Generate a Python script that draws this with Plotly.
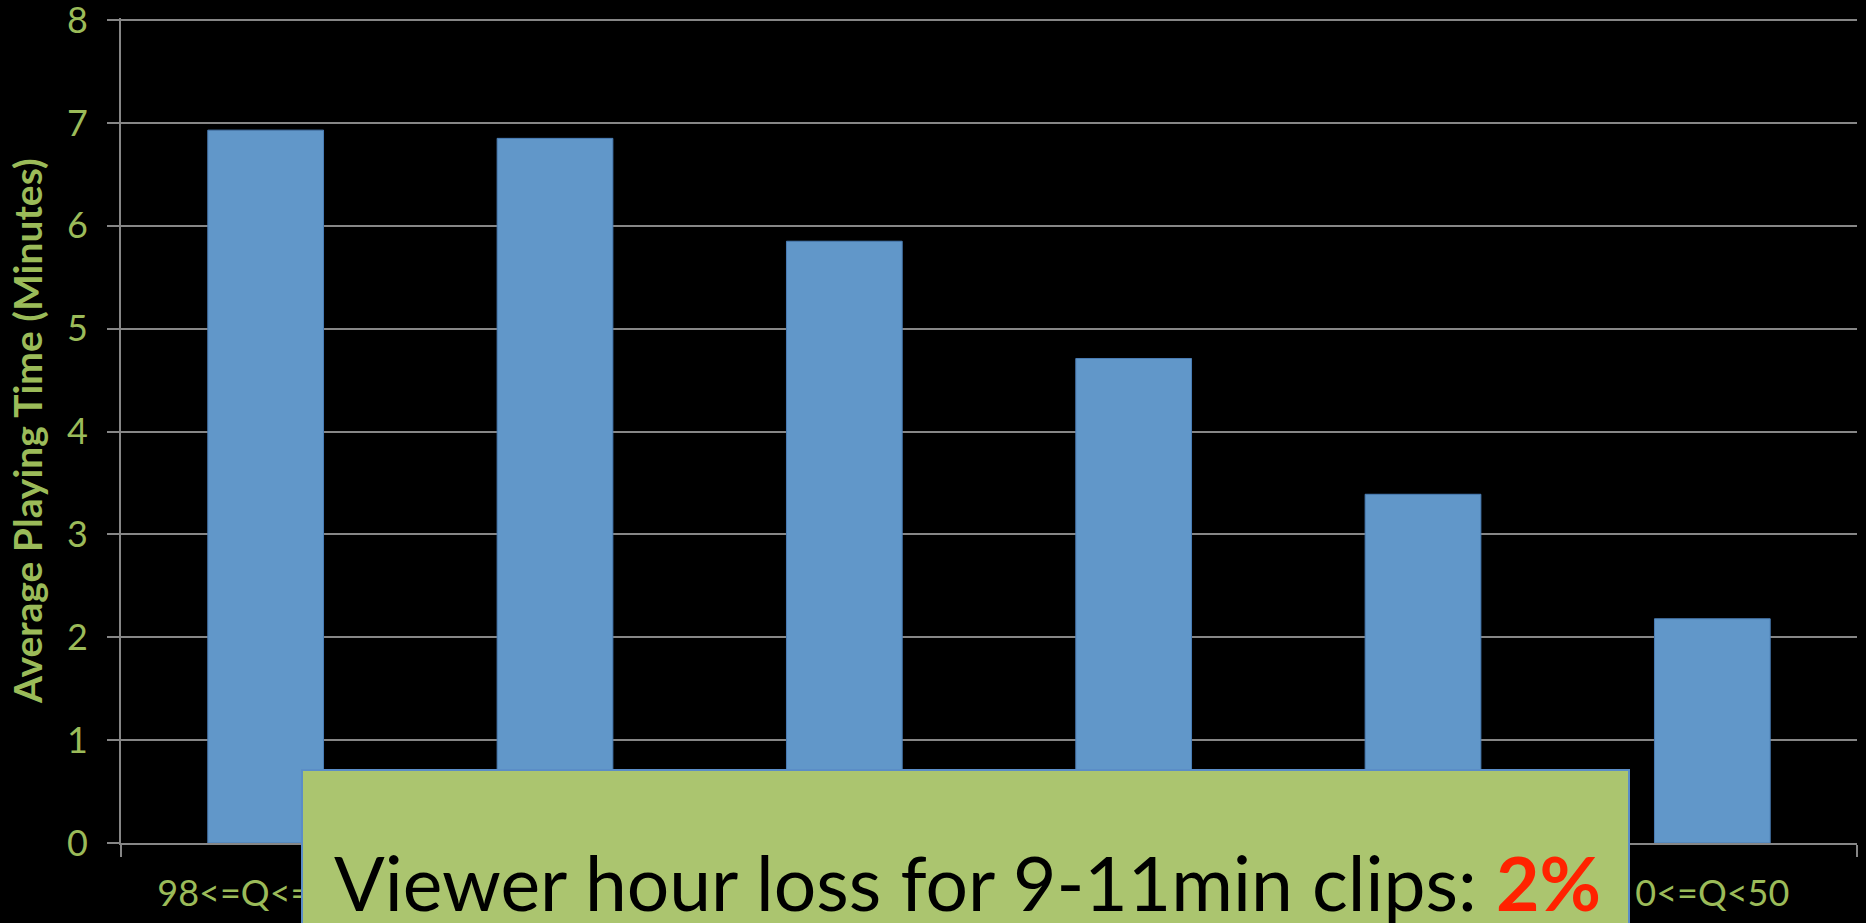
import plotly.graph_objects as go

# Quality buckets and average playing time per bucket
categories = ["98<=Q<=100", "95<=Q<98", "90<=Q<95", "80<=Q<90", "50<=Q<80", "0<=Q<50"]
avg_minutes = [6.93, 6.85, 5.85, 4.71, 3.39, 2.18]
y_ticks = [0, 1, 2, 3, 4, 5, 6, 7, 8]

W, H = 1866, 923
M_L, M_R, M_T, M_B = 121, 9, 18, 80
PLOT_W = W - M_L - M_R
PLOT_H = H - M_T - M_B

GREEN = "#9BBB59"
GRID = "#868686"
FONT = "Lato"


def px_x(x):
    return (x - M_L) / PLOT_W


def px_y(y):
    return (H - M_B - y) / PLOT_H


fig = go.Figure(
    go.Bar(
        x=categories,
        y=avg_minutes,
        marker=dict(color="#6197C9", line=dict(color="#4A7DB5", width=1)),
        hoverinfo="x+y",
    )
)

fig.update_layout(
    width=W,
    height=H,
    margin=dict(l=M_L, r=M_R, t=M_T, b=M_B, autoexpand=False),
    paper_bgcolor="black",
    plot_bgcolor="black",
    bargap=0.6,
    showlegend=False,
    font=dict(family=FONT, color=GREEN, size=36),
)

# small headroom so the top gridline at 8 is kept
fig.update_yaxes(
    range=[0, 8.02],
    tickvals=y_ticks,
    showgrid=True,
    gridcolor=GRID,
    gridwidth=2,
    zeroline=False,
    showline=True,
    linecolor=GRID,
    linewidth=2,
    ticks="outside",
    ticklen=12,
    tickwidth=2,
    tickcolor=GRID,
    ticklabelstandoff=12,
    ticklabeloverflow="allow",
    automargin=False,
    tickfont=dict(family=FONT, size=36, color=GREEN),
)

fig.update_xaxes(
    showgrid=False,
    showline=True,
    linecolor=GRID,
    linewidth=2,
    ticks="outside",
    tickson="boundaries",
    ticklen=12,
    tickwidth=2,
    tickcolor=GRID,
    ticklabelstandoff=18,
    automargin=False,
    tickfont=dict(family=FONT, size=36, color=GREEN),
)

# Vertical axis title
fig.add_annotation(
    text="<b>Average Playing Time (Minutes)</b>",
    xref="paper", yref="paper",
    x=px_x(27), y=px_y(431),
    xanchor="center", yanchor="middle",
    textangle=-90,
    showarrow=False,
    font=dict(family=FONT, size=39, color=GREEN),
)

# Callout box along the bottom
fig.add_shape(
    type="rect",
    xref="paper", yref="paper",
    x0=px_x(302), x1=px_x(1629),
    y0=px_y(940), y1=px_y(770),
    fillcolor="#ABC56F",
    line=dict(color="#5B8DC7", width=2),
    layer="above",
)

fig.add_annotation(
    text="Viewer hour loss for 9-11min clips: <b><span style='color:#FF2200'>2%</span></b>",
    xref="paper", yref="paper",
    x=px_x(332), y=px_y(882),
    xanchor="left", yanchor="middle",
    showarrow=False,
    font=dict(family=FONT, size=75, color="black"),
)

fig.write_html("out.html")
